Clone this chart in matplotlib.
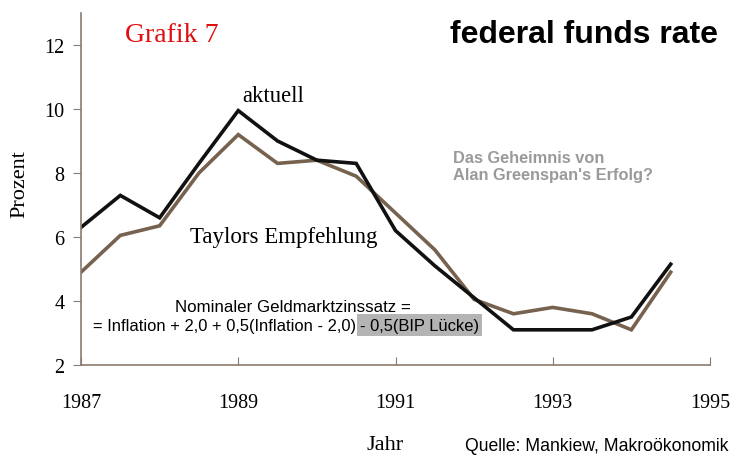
import numpy as np
import matplotlib.pyplot as plt

# Half-year observations, 1987 - 1994.5
years = [1987.0, 1987.5, 1988.0, 1988.5, 1989.0, 1989.5, 1990.0, 1990.5,
         1991.0, 1991.5, 1992.0, 1992.5, 1993.0, 1993.5, 1994.0, 1994.5]
aktuell = [6.3, 7.3, 6.6, 8.3, 9.95, 9.0, 8.4, 8.3,
           6.2, 5.1, 4.1, 3.1, 3.1, 3.1, 3.5, 5.15]
taylor = [4.9, 6.05, 6.35, 8.0, 9.2, 8.3, 8.4, 7.9,
          6.75, 5.6, 4.05, 3.6, 3.8, 3.6, 3.1, 4.9]

yticks = [2, 4, 6, 8, 10, 12]
xticks = [1987, 1989, 1991, 1993, 1995]

serif = "Liberation Serif"
sans = "Liberation Sans"
axis_col = "#8a7a70"

fig = plt.figure(figsize=(7.42, 4.56), dpi=100)
ax = fig.add_axes([81 / 742, 1 - 366 / 456, (710 - 81) / 742, (366 - 14) / 456])

ax.plot(years, taylor, color="#77624f", lw=2.6, solid_joinstyle="miter")
ax.plot(years, aktuell, color="#111111", lw=2.6, solid_joinstyle="miter")

ax.set_xlim(1987, 1995)
ax.set_ylim(2, 13)
ax.set_xticks(xticks)
ax.set_yticks(yticks)
ax.set_xticklabels([str(x) for x in xticks], fontfamily=serif, fontsize=14.5)
ax.set_yticklabels([str(y) for y in yticks], fontfamily=serif, fontsize=14.5)
ax.tick_params(axis="x", direction="in", length=6, color=axis_col, pad=20)
ax.tick_params(axis="y", direction="out", length=6, color=axis_col, pad=6)
for s in ["top", "right"]:
    ax.spines[s].set_visible(False)
for s in ["left", "bottom"]:
    ax.spines[s].set_color(axis_col)
    ax.spines[s].set_linewidth(1.2)

# labels
fig.text(20 / 742, 1 - 184 / 456, "Prozent", rotation=90, ha="center", va="center",
         fontfamily=serif, fontsize=16)
fig.text(385 / 742, 1 - 446 / 456, "Jahr", ha="center", va="center",
         fontfamily=serif, fontsize=16)
fig.text(465 / 742, 1 - 447 / 456, "Quelle: Mankiew, Makroökonomik", ha="left", va="center",
         fontfamily=sans, fontsize=12.7)

# titles
fig.text(125 / 742, 1 - 35 / 456, "Grafik 7", ha="left", va="center",
         fontfamily=serif, fontsize=20, color="#e01010")
fig.text(718 / 742, 1 - 35 / 456, "federal funds rate", ha="right", va="center",
         fontfamily=sans, fontweight="bold", fontsize=23)

# annotations
fig.text(242 / 742, 1 - 97 / 456, "aktuell", ha="left", va="center",
         fontfamily=serif, fontsize=16.3)
fig.text(190 / 742, 1 - 238 / 456, "Taylors Empfehlung", ha="left", va="center",
         fontfamily=serif, fontsize=16.5)
fig.text(453 / 742, 1 - 167 / 456, "Das Geheimnis von\nAlan Greenspan's Erfolg?",
         ha="left", va="center", fontfamily=sans, fontweight="bold", fontsize=11.8,
         color="#9a9a9a", linespacing=1.15)

# Taylor rule formula
fig.text(293 / 742, 1 - 308 / 456, "Nominaler Geldmarktzinssatz =", ha="center", va="center",
         fontfamily=sans, fontsize=12.2)
fig.text(356 / 742, 1 - 326 / 456, "= Inflation + 2,0 + 0,5(Inflation - 2,0)", ha="right",
         va="center", fontfamily=sans, fontsize=11.9)
fig.text(360 / 742, 1 - 326 / 456, "- 0,5(BIP Lücke)", ha="left", va="center",
         fontfamily=sans, fontsize=11.9,
         bbox=dict(facecolor="#b4b4b4", edgecolor="none", pad=2.5))

fig.savefig("out.png", dpi=100)
